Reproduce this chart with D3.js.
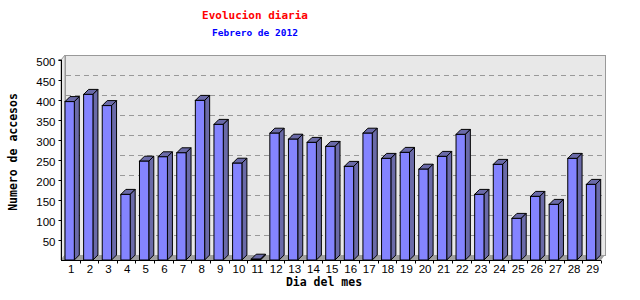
<!DOCTYPE html>
<html>
<head>
<meta charset="utf-8">
<script src="https://cdn.jsdelivr.net/npm/d3@7"></script>
<style>
  body { margin: 0; background: #fff; }
  svg { display: block; }
</style>
</head>
<body>
<div id="chart"></div>
<script>
var days = ["1","2","3","4","5","6","7","8","9","10","11","12","13","14","15",
            "16","17","18","19","20","21","22","23","24","25","26","27","28","29"];
var visits = [396, 414, 386, 164, 247, 258, 268, 399, 339, 242, 2, 317, 302, 294, 284,
              234, 317, 254, 269, 227, 259, 314, 164, 239, 104, 159, 139, 254, 189];
var yTicks = [50, 100, 150, 200, 250, 300, 350, 400, 450, 500];

var width = 640, height = 300;
var plotLeft = 61, plotRight = 601, plotTop = 60, plotBottom = 260;
var wallDx = 4, wallDy = 5, depth = 5;
var monoFont = "'DejaVu Sans Mono', monospace";
var labelFont = "'Liberation Sans', Arial, sans-serif";

var svg = d3.select("#chart").append("svg")
    .attr("width", width)
    .attr("height", height);

var x = d3.scaleBand().domain(days).range([plotLeft, plotRight]).paddingInner(0).paddingOuter(0);
var y = d3.scaleLinear().domain([0, 500]).range([plotBottom, plotTop]);

// back wall
svg.append("rect")
    .attr("x", plotLeft + wallDx + 0.5).attr("y", plotTop - wallDy + 0.5)
    .attr("width", plotRight - plotLeft).attr("height", plotBottom - plotTop)
    .attr("fill", "#e8e8e8")
    .attr("stroke", "#999").attr("stroke-width", 1);

// left wall
svg.append("path")
    .attr("d", "M" + plotLeft + "," + plotTop + "L" + (plotLeft + wallDx) + "," + (plotTop - wallDy) +
        "L" + (plotLeft + wallDx) + "," + (plotBottom - wallDy) + "L" + plotLeft + "," + plotBottom + "Z")
    .attr("fill", "#e8e8e8")
    .attr("stroke", "#999").attr("stroke-width", 1);

// grid lines on the back wall
svg.append("g").selectAll("line")
    .data(yTicks.filter(function (d) { return d < 500; }))
    .enter().append("line")
    .attr("x1", plotLeft + wallDx + 1).attr("x2", plotRight + wallDx)
    .attr("y1", function (d) { return Math.round(y(d) - wallDy) + 0.5; })
    .attr("y2", function (d) { return Math.round(y(d) - wallDy) + 0.5; })
    .attr("stroke", "#999")
    .attr("stroke-dasharray", "5,4");

// floor
svg.append("path")
    .attr("d", "M" + plotLeft + "," + plotBottom + "L" + (plotLeft + wallDx) + "," + (plotBottom - wallDy) +
        "L" + (plotRight + wallDx) + "," + (plotBottom - wallDy) + "L" + plotRight + "," + plotBottom + "Z")
    .attr("fill", "#a0a0a0");

// bars
var bw = x.bandwidth() * 0.5;
var bars = svg.append("g").selectAll("g")
    .data(visits).enter().append("g");

bars.append("path") // top
    .attr("d", function (d, i) {
        var x0 = x(days[i]) + 4, y0 = y(d);
        return "M" + x0 + "," + y0 + "L" + (x0 + depth) + "," + (y0 - depth) +
            "L" + (x0 + bw + depth) + "," + (y0 - depth) + "L" + (x0 + bw) + "," + y0 + "Z";
    })
    .attr("fill", "#6a6aa8").attr("stroke", "#000").attr("stroke-linejoin", "round");

bars.append("path") // side
    .attr("d", function (d, i) {
        var x0 = x(days[i]) + 4 + bw, y0 = y(d);
        return "M" + x0 + "," + y0 + "L" + (x0 + depth) + "," + (y0 - depth) +
            "L" + (x0 + depth) + "," + (plotBottom - depth) + "L" + x0 + "," + plotBottom + "Z";
    })
    .attr("fill", "#6a6aa8").attr("stroke", "#000").attr("stroke-linejoin", "round");

bars.append("rect") // front
    .attr("x", function (d, i) { return x(days[i]) + 4; })
    .attr("y", function (d) { return y(d); })
    .attr("width", bw)
    .attr("height", function (d) { return plotBottom - y(d); })
    .attr("fill", "#8484ff").attr("stroke", "#000");

// y axis
var yAxis = d3.axisLeft(y).tickValues(yTicks).tickSize(3).tickPadding(3);
var gy = svg.append("g").attr("transform", "translate(" + (plotLeft + 0.5) + ",0)").call(yAxis);
gy.select(".domain").attr("d", "M-3," + plotTop + "H0V" + plotBottom);
gy.selectAll("text")
    .attr("font-family", labelFont).attr("font-size", 11.5).attr("fill", "#000")
    .attr("dy", "0.45em");

// x axis
var xAxis = d3.axisBottom(x).tickSize(0).tickPadding(4);
var gx = svg.append("g").attr("transform", "translate(0," + (plotBottom + 0.5) + ")").call(xAxis);
gx.select(".domain").attr("d", "M" + plotLeft + ",0H" + plotRight);
gx.selectAll("text")
    .attr("font-family", labelFont).attr("font-size", 11.5).attr("fill", "#000")
    .attr("dx", 1);
gx.selectAll(".sep")
    .data(days.map(function (d) { return x(d) + x.bandwidth(); }))
    .enter().append("line")
    .attr("class", "sep")
    .attr("x1", function (d) { return Math.round(d) + 0.5; })
    .attr("x2", function (d) { return Math.round(d) + 0.5; })
    .attr("y1", 0).attr("y2", 3)
    .attr("stroke", "#000");

// titles
svg.append("text")
    .attr("x", 255).attr("y", 19)
    .attr("text-anchor", "middle")
    .attr("font-family", monoFont).attr("font-weight", "bold").attr("font-size", 11)
    .attr("fill", "#ff0000")
    .text("Evolucion diaria");

svg.append("text")
    .attr("x", 255).attr("y", 36)
    .attr("text-anchor", "middle")
    .attr("font-family", monoFont).attr("font-weight", "bold").attr("font-size", 9.5)
    .attr("fill", "#0000ff")
    .text("Febrero de 2012");

svg.append("text")
    .attr("x", 324).attr("y", 286)
    .attr("text-anchor", "middle")
    .attr("font-family", monoFont).attr("font-weight", "bold").attr("font-size", 11.5)
    .attr("fill", "#000")
    .text("Dia del mes");

svg.append("text")
    .attr("transform", "translate(17,152) rotate(-90)")
    .attr("text-anchor", "middle")
    .attr("font-family", monoFont).attr("font-weight", "bold").attr("font-size", 11.5)
    .attr("fill", "#000")
    .text("Numero de accesos");
</script>
</body>
</html>
